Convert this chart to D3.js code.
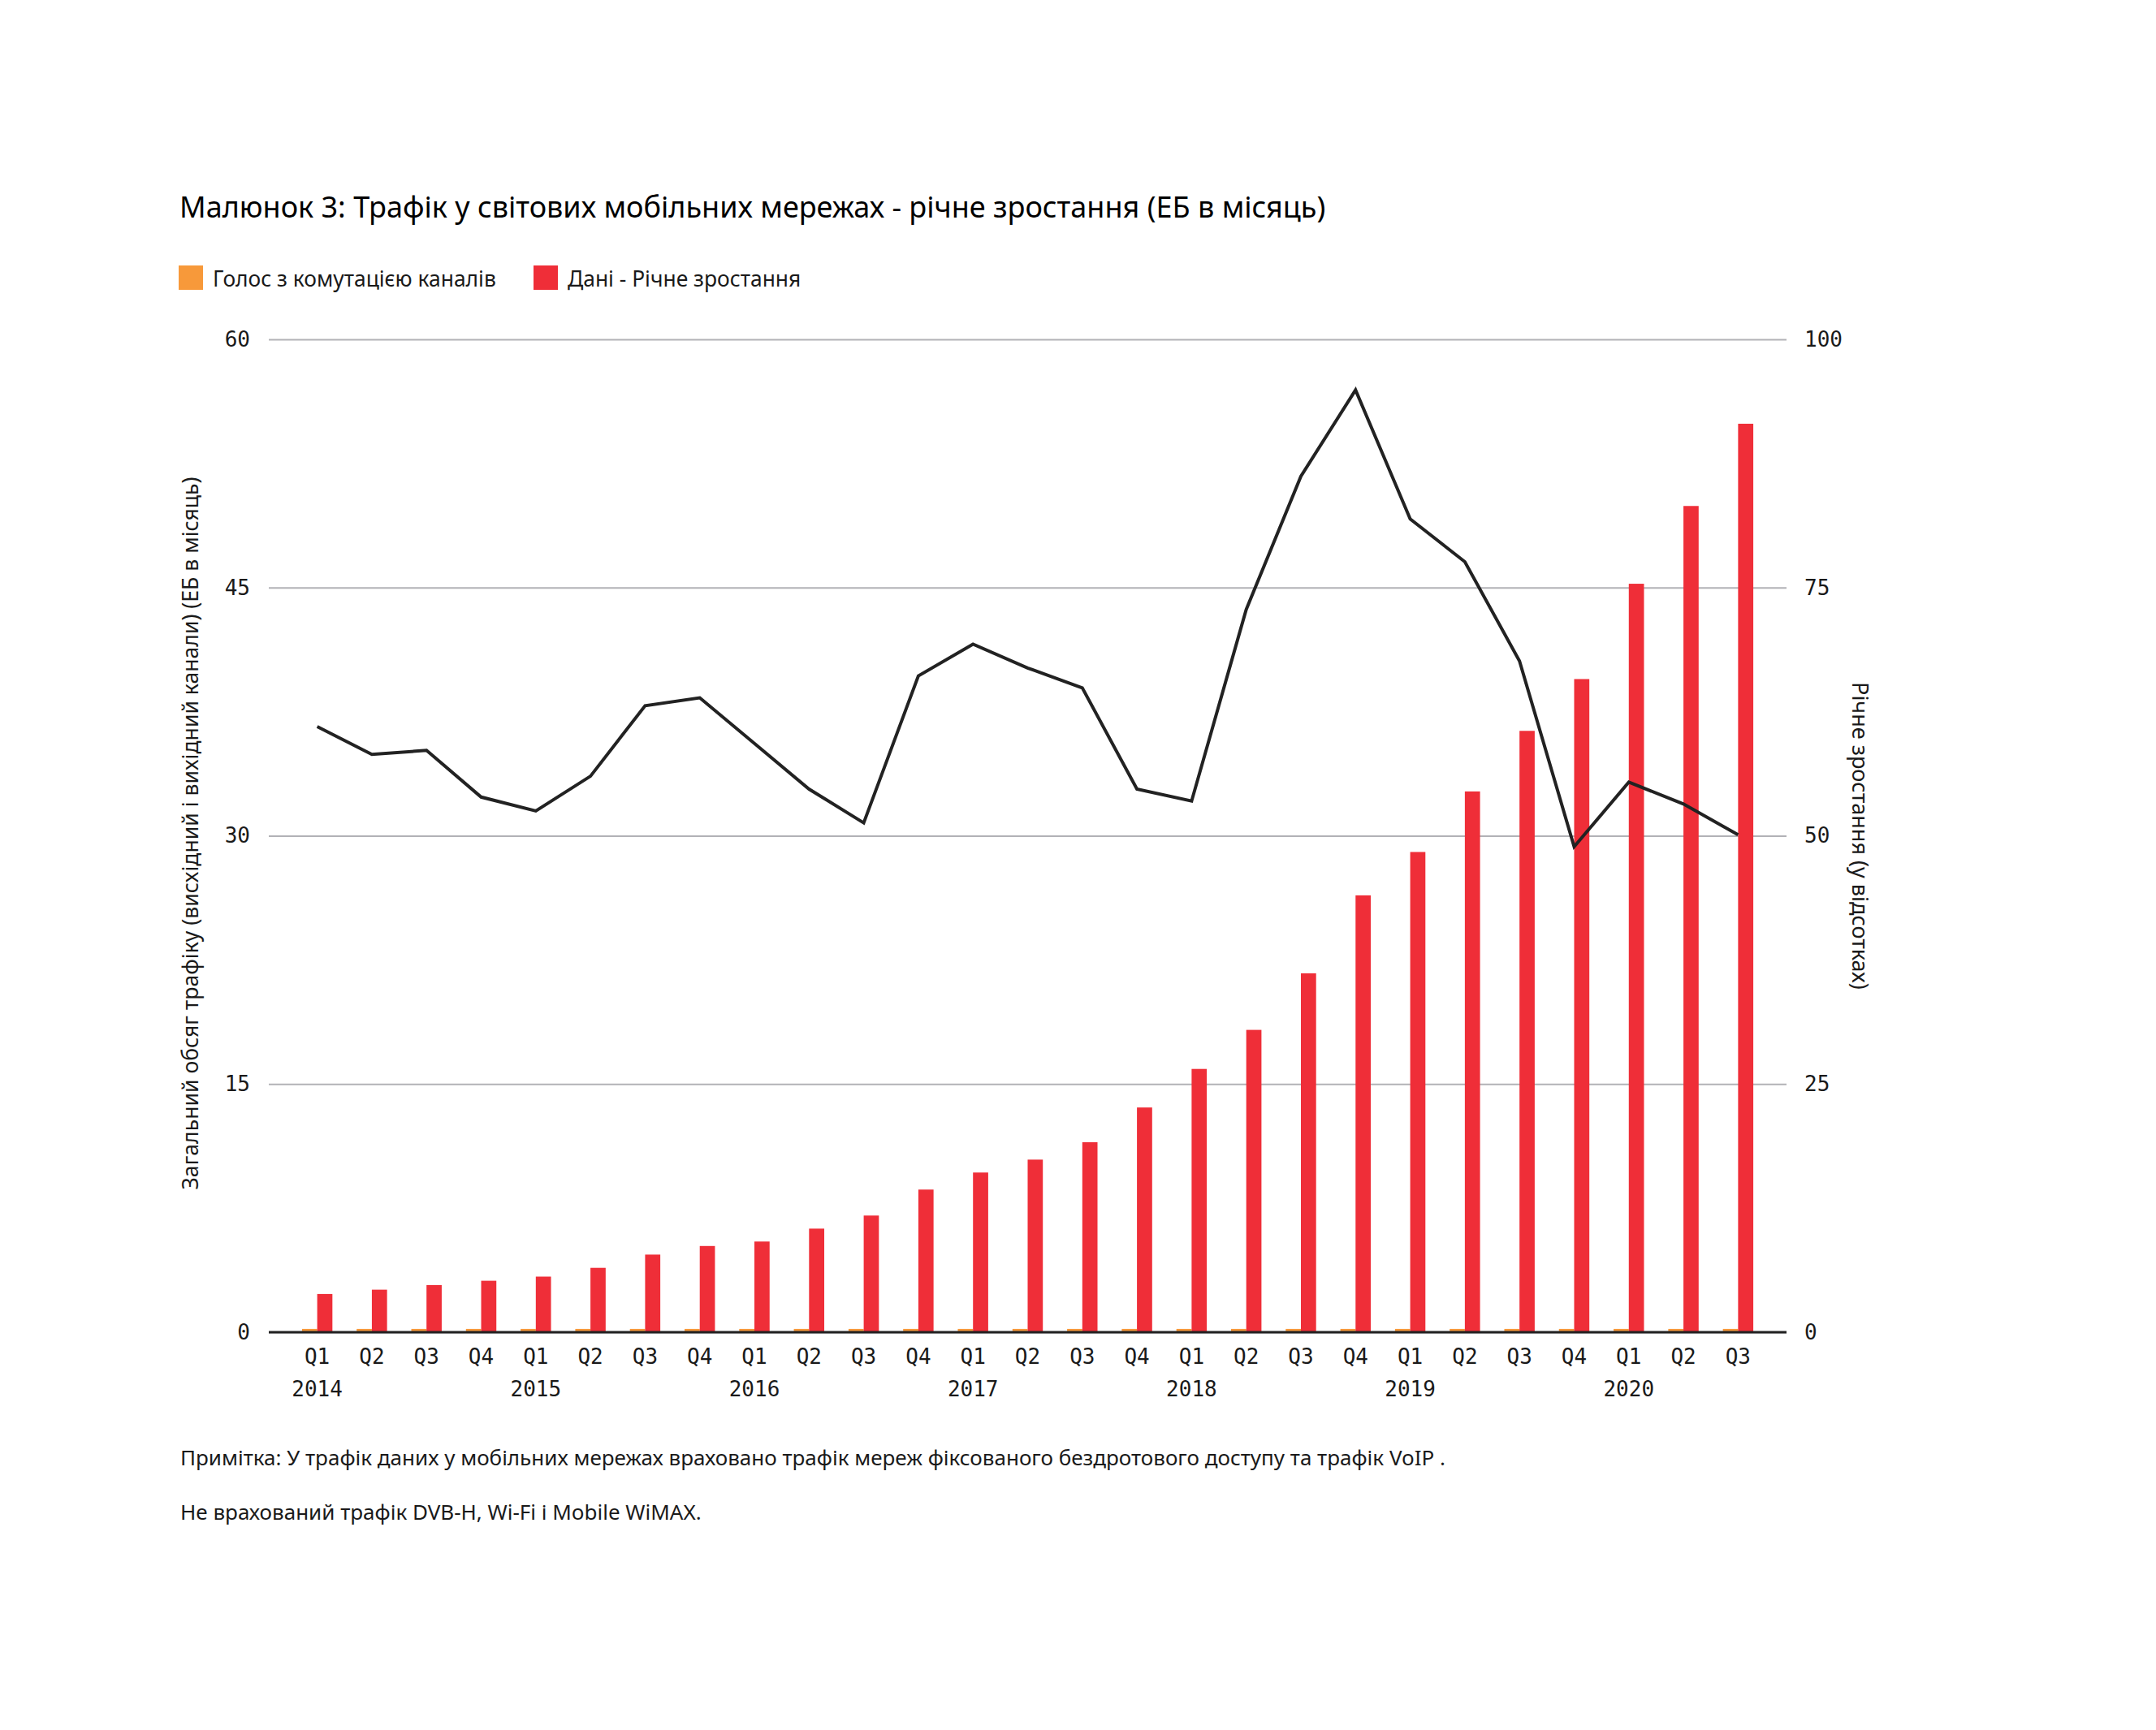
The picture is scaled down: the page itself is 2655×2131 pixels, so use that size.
<!DOCTYPE html>
<html>
<head>
<meta charset="utf-8">
<script src="https://cdn.jsdelivr.net/npm/d3@7/dist/d3.min.js"></script>
<style>
  html, body { margin: 0; padding: 0; background: #ffffff; }
  svg { display: block; }
</style>
</head>
<body>
<svg id="chart" width="2655" height="2131"></svg>
<script>
// ---------- data ----------
const categories = [
  "2014 Q1","2014 Q2","2014 Q3","2014 Q4",
  "2015 Q1","2015 Q2","2015 Q3","2015 Q4",
  "2016 Q1","2016 Q2","2016 Q3","2016 Q4",
  "2017 Q1","2017 Q2","2017 Q3","2017 Q4",
  "2018 Q1","2018 Q2","2018 Q3","2018 Q4",
  "2019 Q1","2019 Q2","2019 Q3","2019 Q4",
  "2020 Q1","2020 Q2","2020 Q3"
];
const quarterLabels = [
  "Q1","Q2","Q3","Q4","Q1","Q2","Q3","Q4","Q1","Q2","Q3","Q4",
  "Q1","Q2","Q3","Q4","Q1","Q2","Q3","Q4","Q1","Q2","Q3","Q4",
  "Q1","Q2","Q3"
];
const yearLabels = ["2014","2015","2016","2017","2018","2019","2020"];
const yearCategories = ["2014 Q1","2015 Q1","2016 Q1","2017 Q1","2018 Q1","2019 Q1","2020 Q1"];

// Circuit-switched voice (EB / month)
const voiceValues = [
  0.2,0.2,0.2,0.2, 0.2,0.2,0.2,0.2, 0.2,0.2,0.2,0.2,
  0.2,0.2,0.2,0.2, 0.2,0.2,0.2,0.2, 0.2,0.2,0.2,0.2,
  0.2,0.2,0.2
];
// Data (EB / month)
const dataValues = [
  2.31, 2.57, 2.85, 3.11,
  3.36, 3.89, 4.69, 5.21,
  5.48, 6.26, 7.05, 8.62,
  9.65, 10.43, 11.48, 13.58,
  15.91, 18.27, 21.69, 26.40,
  29.02, 32.68, 36.34, 39.47,
  45.23, 49.93, 54.90
];
// Year-on-year growth (%)
const growthValues = [
  61.0, 58.2, 58.6, 53.9,
  52.5, 56.0, 63.1, 63.9,
  59.3, 54.7, 51.3, 66.1,
  69.3, 66.9, 64.9, 54.7,
  53.5, 72.8, 86.2, 94.9,
  81.9, 77.6, 67.6, 48.9,
  55.4, 53.2, 50.1
];

const leftTicks = [0, 15, 30, 45, 60];
const rightTicks = [0, 25, 50, 75, 100];

const titleText = "Малюнок 3: Трафік у світових мобільних мережах - річне зростання (ЕБ в місяць)";
const legendLabels = ["Голос з комутацією каналів", "Дані - Річне зростання"];
const leftAxisTitle = "Загальний обсяг трафіку (висхідний і вихідний канали) (ЕБ в місяць)";
const rightAxisTitle = "Річне зростання (у відсотках)";
const notes = [
  "Примітка: У трафік даних у мобільних мережах враховано трафік мереж фіксованого бездротового доступу та трафік VoIP .",
  "Не врахований трафік DVB-H, Wi-Fi і Mobile WiMAX."
];

// ---------- layout ----------
const COLORS = { voice: "#f7993a", data: "#ef2e38", line: "#222222", grid: "#b2b2b6", axis: "#222222", text: "#1a1a1a" };
const TEXT_FONT = "'Noto Sans', 'Open Sans', sans-serif";
const MONO_FONT = "'DejaVu Sans Mono', 'Liberation Mono', monospace";

const plot = { left: 331, right: 2200, top: 418, bottom: 1641 };

const svg = d3.select("#chart");

const x = d3.scaleBand().domain(categories).range([plot.left, plot.right]).paddingInner(0).paddingOuter(0.386);
const yL = d3.scaleLinear().domain([0, 60]).range([plot.bottom, plot.top]);
const yR = d3.scaleLinear().domain([0, 100]).range([plot.bottom, plot.top]);
const barW = x.bandwidth() * 0.278;
const cx = d => x(d) + x.bandwidth() / 2;

// Title
svg.append("text")
  .attr("x", 221).attr("y", 268)
  .attr("font-family", TEXT_FONT).attr("font-size", 36)
  .attr("fill", "#000")
  .text(titleText);

// Legend
const legendItems = [
  { label: legendLabels[0], color: COLORS.voice, x: 220 },
  { label: legendLabels[1], color: COLORS.data, x: 657 }
];
const lg = svg.append("g");
legendItems.forEach(it => {
  lg.append("rect").attr("x", it.x).attr("y", 327).attr("width", 30).attr("height", 30).attr("fill", it.color);
  lg.append("text").attr("x", it.x + 42).attr("y", 353)
    .attr("font-family", TEXT_FONT).attr("font-size", 26.4).attr("fill", COLORS.text)
    .text(it.label);
});

// Gridlines + left axis
const gLeft = svg.append("g").attr("transform", `translate(${plot.left},0)`)
  .call(d3.axisLeft(yL).tickValues(leftTicks).tickSize(-(plot.right - plot.left)).tickPadding(23).tickFormat(d3.format("d")));
gLeft.select(".domain").remove();
gLeft.selectAll(".tick line").attr("stroke", COLORS.grid).attr("stroke-width", 2);
gLeft.selectAll(".tick text").attr("font-family", MONO_FONT).attr("font-size", 26).attr("fill", COLORS.text);

// Right axis
const gRight = svg.append("g").attr("transform", `translate(${plot.right},0)`)
  .call(d3.axisRight(yR).tickValues(rightTicks).tickSize(0).tickPadding(22).tickFormat(d3.format("d")));
gRight.select(".domain").remove();
gRight.selectAll(".tick text").attr("font-family", MONO_FONT).attr("font-size", 26).attr("fill", COLORS.text);

// Bars
svg.append("g").selectAll("rect.voice").data(categories).join("rect")
  .attr("class", "voice")
  .attr("x", d => cx(d) - barW)
  .attr("width", barW)
  .attr("y", (d, i) => yL(voiceValues[i]))
  .attr("height", (d, i) => yL(0) - yL(voiceValues[i]))
  .attr("fill", COLORS.voice);

svg.append("g").selectAll("rect.data").data(categories).join("rect")
  .attr("class", "data")
  .attr("x", d => cx(d))
  .attr("width", barW)
  .attr("y", (d, i) => yL(dataValues[i]))
  .attr("height", (d, i) => yL(0) - yL(dataValues[i]))
  .attr("fill", COLORS.data);

// Zero axis line
svg.append("line")
  .attr("x1", plot.left).attr("x2", plot.right)
  .attr("y1", yL(0)).attr("y2", yL(0))
  .attr("stroke", COLORS.axis).attr("stroke-width", 3);

// Growth line
const line = d3.line().x((d, i) => cx(categories[i])).y(d => yR(d));
svg.append("path").datum(growthValues)
  .attr("d", line)
  .attr("fill", "none")
  .attr("stroke", COLORS.line)
  .attr("stroke-width", 4)
  .attr("stroke-linejoin", "miter");

// Bottom axis (quarters)
const gBottom = svg.append("g").attr("transform", `translate(0,${plot.bottom})`)
  .call(d3.axisBottom(x).tickSize(0).tickPadding(21).tickFormat((d, i) => quarterLabels[i]));
gBottom.select(".domain").remove();
gBottom.selectAll(".tick text").attr("font-family", MONO_FONT).attr("font-size", 26).attr("fill", COLORS.text);

// Year labels
svg.append("g").selectAll("text.year").data(yearCategories).join("text")
  .attr("class", "year")
  .attr("x", d => cx(d))
  .attr("y", 1720)
  .attr("text-anchor", "middle")
  .attr("font-family", MONO_FONT).attr("font-size", 26).attr("fill", COLORS.text)
  .text((d, i) => yearLabels[i]);

// Axis titles
const midY = (plot.top + plot.bottom) / 2;
svg.append("text")
  .attr("transform", `translate(244,${midY - 3}) rotate(-90)`)
  .attr("text-anchor", "middle")
  .attr("font-family", TEXT_FONT).attr("font-size", 26.6).attr("fill", COLORS.text)
  .text(leftAxisTitle);
svg.append("text")
  .attr("transform", `translate(2281,${midY}) rotate(90)`)
  .attr("text-anchor", "middle")
  .attr("font-family", TEXT_FONT).attr("font-size", 27).attr("fill", COLORS.text)
  .text(rightAxisTitle);

// Notes
notes.forEach((t, i) => {
  svg.append("text")
    .attr("x", 222).attr("y", 1805 + i * 67)
    .attr("font-family", TEXT_FONT).attr("font-size", 26).attr("fill", COLORS.text)
    .text(t);
});
</script>
</body>
</html>
